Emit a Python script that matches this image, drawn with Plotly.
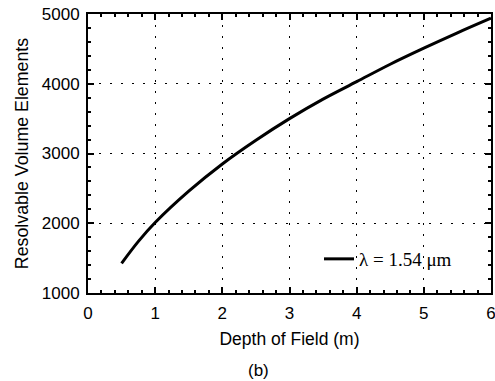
import plotly.graph_objects as go

depth_m = [0.5, 0.75, 1.0, 1.5, 2.0, 2.5, 3.0, 3.5, 4.0, 4.5, 5.0, 5.5, 6.0]
volume_elements = [1425, 1740, 2010, 2460, 2850, 3190, 3500, 3780, 4030, 4280, 4510, 4730, 4940]
series_name = "λ = 1.54 μm"
x_ticks = [0, 1, 2, 3, 4, 5, 6]
y_ticks = [1000, 2000, 3000, 4000, 5000]

W, H = 495, 381
L, R, T, B = 88, 4, 14, 88

fig = go.Figure()
fig.add_trace(go.Scatter(
    x=depth_m, y=volume_elements, mode="lines", name=series_name,
    line=dict(color="black", width=3, shape="spline"),
))

axis_common = dict(
    showline=True, linecolor="black", linewidth=2, mirror="ticks",
    ticks="inside", ticklen=6, tickwidth=1.5, tickcolor="black",
    showgrid=True, gridcolor="black", gridwidth=1, griddash="2px,9px",
    zeroline=False, automargin=False, ticklabeloverflow="allow",
    tickfont=dict(family="Liberation Sans, Arial", size=17, color="black"),
)

fig.update_xaxes(
    range=[0, 6], tickvals=x_ticks, ticktext=[str(v) for v in x_ticks],
    minor=dict(dtick=0.2, ticks="inside", ticklen=3, tickcolor="black", showgrid=False),
    ticklabelstandoff=4,
    title=dict(text="Depth of Field (m)", font=dict(family="Liberation Sans, Arial", size=17.5, color="black"), standoff=10),
    **axis_common,
)
fig.update_yaxes(
    range=[1000, 5000], tickvals=y_ticks, ticktext=[str(v) for v in y_ticks],
    minor=dict(dtick=200, ticks="inside", ticklen=3, tickcolor="black", showgrid=False),
    ticklabelstandoff=3,
    title=dict(text="Resolvable Volume Elements", font=dict(family="Liberation Sans, Arial", size=17.8, color="black"), standoff=9),
    **axis_common,
)

fig.add_annotation(
    text="(b)", xref="paper", yref="paper",
    x=(258 - L) / (W - L - R), y=-(370 - (H - B)) / (H - T - B),
    showarrow=False, font=dict(family="Liberation Sans, Arial", size=17, color="black"),
    xanchor="center", yanchor="middle",
)

fig.update_layout(
    width=W, height=H,
    margin=dict(l=L, r=R, t=T, b=B, autoexpand=False),
    paper_bgcolor="white", plot_bgcolor="white",
    showlegend=True,
    legend=dict(
        x=(319 - L) / (W - L - R), y=((H - B) - 259) / (H - T - B),
        xanchor="left", yanchor="middle",
        bgcolor="rgba(0,0,0,0)", borderwidth=0,
        font=dict(family="Liberation Serif, Times New Roman", size=19, color="black"),
    ),
)

fig.write_html("out.html", config={"displayModeBar": False},
               post_script="document.body.style.margin='0';document.body.style.overflow='hidden';")
